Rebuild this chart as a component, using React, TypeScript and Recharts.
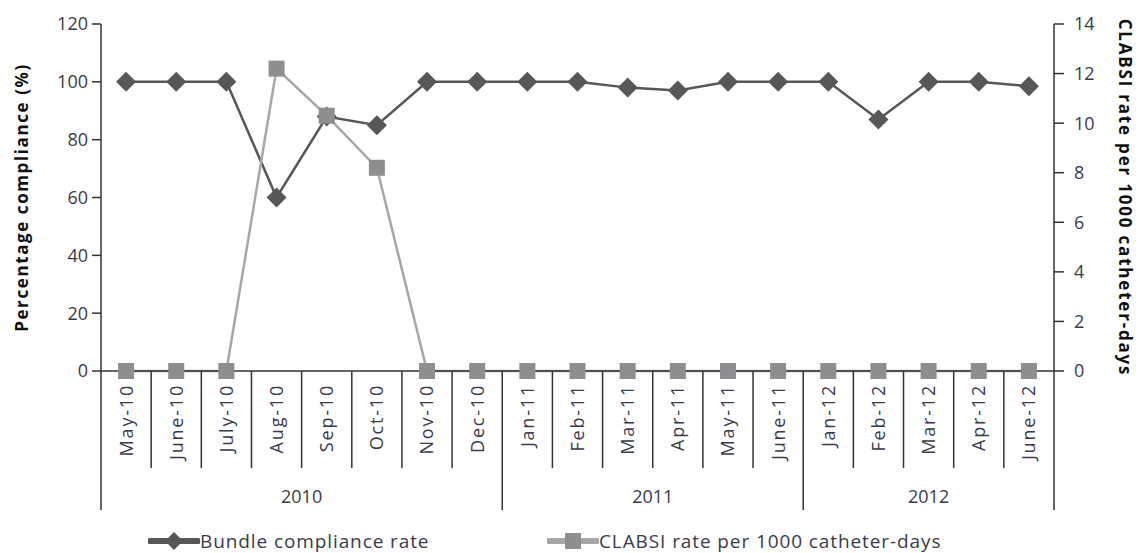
import React from "react";
import { LineChart, Line, XAxis, YAxis } from "recharts";

// data
const months = [
  "May-10", "June-10", "July-10", "Aug-10", "Sep-10", "Oct-10", "Nov-10", "Dec-10",
  "Jan-11", "Feb-11", "Mar-11", "Apr-11", "May-11", "June-11",
  "Jan-12", "Feb-12", "Mar-12", "Apr-12", "June-12",
];
const compliance = [100, 100, 100, 60, 88, 85, 100, 100, 100, 100, 98, 97, 100, 100, 100, 87, 100, 100, 98.5];
const clabsi = [0, 0, 0, 12.2, 10.3, 8.2, 0, 0, 0, 0, 0, 0, 0, 0, 0, 0, 0, 0, 0];
const years = ["2010", "2011", "2012"];
const yearCounts = [8, 6, 5];
const leftTicks = [0, 20, 40, 60, 80, 100, 120];
const rightTicks = [0, 2, 4, 6, 8, 10, 12, 14];

const data = months.map((m, i) => ({ month: m, compliance: compliance[i], clabsi: clabsi[i] }));

const W = 1139;
const H = 553;
const LEFT = 101;
const RIGHT = 85;
const TOP = 24;
const AXIS_Y = 371;
const BAND = (W - LEFT - RIGHT) / months.length;

const FONT = "'Open Sans', Lato, sans-serif";
const TXT = "#3a3a4c";
const DARK = "#575757";
const GRAY = "#a6a6a6";
const SQ = "#8e8e90";

// index where each year starts
const yearStarts: number[] = [];
let acc = 0;
yearCounts.forEach((c) => {
  yearStarts.push(acc);
  acc += c;
});

const MonthTick = (props: any) => {
  const { x, payload } = props;
  const i = payload.index;
  const right = x + BAND / 2;
  const left = x - BAND / 2;
  const isYearEnd = yearStarts.includes(i + 1) || i === months.length - 1;
  const g = yearStarts.indexOf(i);
  return (
    <g>
      {i === 0 && <line x1={left} y1={AXIS_Y} x2={left} y2={510} stroke="#333" strokeWidth={1.5} />}
      <line x1={right} y1={AXIS_Y} x2={right} y2={isYearEnd ? 510 : 468} stroke="#333" strokeWidth={1.5} />
      <text
        x={x}
        y={384}
        transform={`rotate(-90 ${x} 384)`}
        textAnchor="end"
        dy="0.36em"
        fontSize={18}
        letterSpacing={1.8}
        fontFamily={FONT}
        fill={TXT}
      >
        {payload.value}
      </text>
      {g >= 0 && (
        <text
          x={left + (yearCounts[g] * BAND) / 2}
          y={503}
          textAnchor="middle"
          fontSize={18}
          fontFamily={FONT}
          fill={TXT}
        >
          {years[g]}
        </text>
      )}
    </g>
  );
};

const Diamond = (props: any) => {
  const { cx, cy, index } = props;
  if (cx == null || cy == null) return null;
  return (
    <polygon
      key={`d${index}`}
      points={`${cx},${cy - 10} ${cx + 10},${cy} ${cx},${cy + 10} ${cx - 10},${cy}`}
      fill={DARK}
    />
  );
};

const Square = (props: any) => {
  const { cx, cy, index } = props;
  if (cx == null || cy == null) return null;
  return <rect key={`s${index}`} x={cx - 8} y={cy - 8} width={16} height={16} fill={SQ} />;
};

const LegendItem = ({ x, label, color, marker }: { x: number; label: string; color: string; marker: "d" | "s" }) => (
  <div style={{ position: "absolute", left: x, top: 530, display: "flex", alignItems: "center" }}>
    <svg width={52} height={22}>
      <line x1={2} y1={11} x2={50} y2={11} stroke={color} strokeWidth={6} strokeLinecap="round" />
      {marker === "d" ? (
        <polygon points="26,2 35,11 26,20 17,11" fill={color} />
      ) : (
        <rect x={18} y={3} width={16} height={16} fill={SQ} />
      )}
    </svg>
    <span style={{ fontFamily: FONT, fontSize: 19, letterSpacing: 0.9, color: TXT, lineHeight: "22px" }}>{label}</span>
  </div>
);

export default function App() {
  return (
    <div style={{ position: "absolute", left: 0, top: 0, width: W, height: H, background: "#fff" }}>
      <LineChart width={W} height={H} data={data} margin={{ top: TOP, right: 0, left: 0, bottom: 0 }}>
        <XAxis
          dataKey="month"
          interval={0}
          tickLine={false}
          padding={{ left: BAND / 2, right: BAND / 2 }}
          axisLine={{ stroke: "#333", strokeWidth: 1.5 }}
          height={H - AXIS_Y}
          tick={<MonthTick />}
        />
        <YAxis
          yAxisId="left"
          domain={[0, 120]}
          ticks={leftTicks}
          width={LEFT}
          tickSize={9}
          tickMargin={4}
          axisLine={{ stroke: "#333", strokeWidth: 1.5 }}
          tickLine={{ stroke: "#333", strokeWidth: 1.5 }}
          tick={{ fill: TXT, fontSize: 18, fontFamily: FONT }}
          label={{
            value: "Percentage compliance (%)",
            angle: -90,
            position: "insideLeft",
            offset: 22,
            style: { textAnchor: "middle", fontWeight: 700, fontSize: 17, letterSpacing: 1.6, fontFamily: FONT, fill: "#111" },
          }}
        />
        <YAxis
          yAxisId="right"
          orientation="right"
          domain={[0, 14]}
          ticks={rightTicks}
          width={RIGHT}
          tickSize={10}
          tickMargin={10}
          axisLine={{ stroke: "#333", strokeWidth: 1.5 }}
          tickLine={{ stroke: "#333", strokeWidth: 1.5 }}
          tick={{ fill: TXT, fontSize: 18, fontFamily: FONT }}
          label={{
            value: "CLABSI rate per 1000 catheter-days",
            angle: 90,
            position: "insideRight",
            offset: 14,
            style: { textAnchor: "middle", fontWeight: 700, fontSize: 17, letterSpacing: 1.8, fontFamily: FONT, fill: "#111" },
          }}
        />
        <Line
          yAxisId="left"
          dataKey="compliance"
          type="linear"
          stroke={DARK}
          strokeWidth={2.5}
          dot={<Diamond />}
          activeDot={false}
          isAnimationActive={false}
        />
        <Line
          yAxisId="right"
          dataKey="clabsi"
          type="linear"
          stroke={GRAY}
          strokeWidth={2.5}
          dot={<Square />}
          activeDot={false}
          isAnimationActive={false}
        />
      </LineChart>
      <LegendItem x={148} label="Bundle compliance rate" color={DARK} marker="d" />
      <LegendItem x={547} label="CLABSI rate per 1000 catheter-days" color={GRAY} marker="s" />
    </div>
  );
}
